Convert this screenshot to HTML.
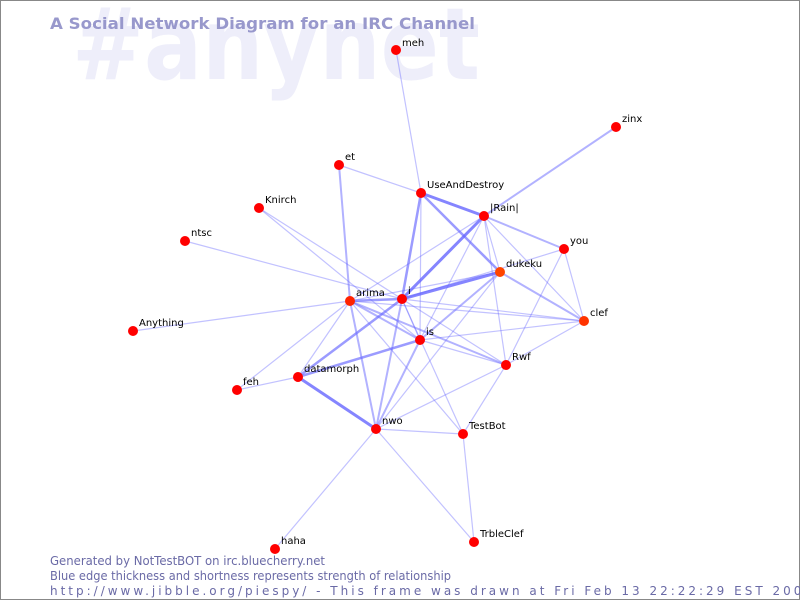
<!DOCTYPE html>
<html><head><meta charset="utf-8"><style>
html,body{margin:0;padding:0;background:#fff}
svg{display:block}
</style></head><body>
<svg width="800" height="600" viewBox="0 0 800 600" xmlns="http://www.w3.org/2000/svg">
<rect x="0.5" y="0.5" width="799" height="599" fill="#fff" stroke="#888" stroke-width="1"/>
<text x="72" y="79" font-family="DejaVu Sans, sans-serif" font-weight="bold" font-size="100" fill="#eeeefa" textLength="408" lengthAdjust="spacingAndGlyphs">#anynet</text>
<text x="50" y="29" font-family="DejaVu Sans, sans-serif" font-weight="bold" font-size="16" fill="#9898cc" textLength="425" lengthAdjust="spacingAndGlyphs">A Social Network Diagram for an IRC Channel</text>
<g stroke="#6666ff" stroke-linecap="round" fill="none">
<g stroke-opacity="0.4" stroke-width="1.2">
<line x1="396" y1="50" x2="421" y2="193"/>
<line x1="339" y1="165" x2="421" y2="193"/>
<line x1="421" y1="193" x2="420" y2="340"/>
<line x1="484" y1="216" x2="350" y2="301"/>
<line x1="484" y1="216" x2="500" y2="272"/>
<line x1="484" y1="216" x2="584" y2="321"/>
<line x1="484" y1="216" x2="420" y2="340"/>
<line x1="484" y1="216" x2="506" y2="365"/>
<line x1="564" y1="249" x2="584" y2="321"/>
<line x1="564" y1="249" x2="506" y2="365"/>
<line x1="564" y1="249" x2="402" y2="299"/>
<line x1="500" y1="272" x2="350" y2="301"/>
<line x1="500" y1="272" x2="376" y2="429"/>
<line x1="350" y1="301" x2="584" y2="321"/>
<line x1="350" y1="301" x2="298" y2="377"/>
<line x1="350" y1="301" x2="237" y2="390"/>
<line x1="350" y1="301" x2="133" y2="331"/>
<line x1="350" y1="301" x2="463" y2="434"/>
<line x1="259" y1="208" x2="420" y2="340"/>
<line x1="259" y1="208" x2="402" y2="299"/>
<line x1="185" y1="241" x2="402" y2="299"/>
<line x1="402" y1="299" x2="420" y2="340"/>
<line x1="402" y1="299" x2="506" y2="365"/>
<line x1="402" y1="299" x2="463" y2="434"/>
<line x1="402" y1="299" x2="584" y2="321"/>
<line x1="420" y1="340" x2="584" y2="321"/>
<line x1="420" y1="340" x2="506" y2="365"/>
<line x1="298" y1="377" x2="237" y2="390"/>
<line x1="376" y1="429" x2="463" y2="434"/>
<line x1="376" y1="429" x2="506" y2="365"/>
<line x1="376" y1="429" x2="275" y2="549"/>
<line x1="376" y1="429" x2="474" y2="542"/>
<line x1="463" y1="434" x2="506" y2="365"/>
<line x1="463" y1="434" x2="474" y2="542"/>
<line x1="584" y1="321" x2="506" y2="365"/>
</g>
<g stroke-opacity="0.5" stroke-width="2">
<line x1="616" y1="127" x2="484" y2="216"/>
<line x1="339" y1="165" x2="350" y2="301"/>
<line x1="500" y1="272" x2="584" y2="321"/>
<line x1="500" y1="272" x2="420" y2="340"/>
<line x1="350" y1="301" x2="420" y2="340"/>
<line x1="350" y1="301" x2="506" y2="365"/>
<line x1="350" y1="301" x2="376" y2="429"/>
<line x1="402" y1="299" x2="376" y2="429"/>
<line x1="420" y1="340" x2="376" y2="429"/>
<line x1="484" y1="216" x2="564" y2="249"/>
</g>
<g stroke-opacity="0.65" stroke-width="2.5">
<line x1="402" y1="299" x2="298" y2="377"/>
<line x1="420" y1="340" x2="298" y2="377"/>
<line x1="421" y1="193" x2="500" y2="272"/>
<line x1="421" y1="193" x2="402" y2="299"/>
<line x1="350" y1="301" x2="402" y2="299"/>
</g>
<g stroke-opacity="0.8" stroke-width="3">
<line x1="421" y1="193" x2="484" y2="216"/>
<line x1="484" y1="216" x2="402" y2="299"/>
<line x1="500" y1="272" x2="402" y2="299"/>
<line x1="298" y1="377" x2="376" y2="429"/>
</g>
</g>
<g fill="#ff0000">
<circle cx="396" cy="50" r="5"/><circle cx="616" cy="127" r="5"/><circle cx="339" cy="165" r="5"/>
<circle cx="421" cy="193" r="5"/><circle cx="259" cy="208" r="5"/><circle cx="484" cy="216" r="5"/>
<circle cx="185" cy="241" r="5"/><circle cx="564" cy="249" r="5"/><circle cx="500" cy="272" r="5" fill="#ff4400"/>
<circle cx="350" cy="301" r="5" fill="#ff2200"/><circle cx="402" cy="299" r="5"/><circle cx="133" cy="331" r="5"/>
<circle cx="584" cy="321" r="5" fill="#ff3300"/><circle cx="420" cy="340" r="5"/><circle cx="298" cy="377" r="5"/>
<circle cx="506" cy="365" r="5"/><circle cx="237" cy="390" r="5"/><circle cx="376" cy="429" r="5"/>
<circle cx="463" cy="434" r="5"/><circle cx="474" cy="542" r="5"/><circle cx="275" cy="549" r="5"/>
</g>
<g font-family="DejaVu Sans, sans-serif" font-size="10" fill="#000">
<text x="402" y="46">meh</text><text x="622" y="122">zinx</text><text x="345" y="160">et</text>
<text x="427" y="188">UseAndDestroy</text><text x="265" y="203">Knirch</text><text x="490" y="211">|Rain|</text>
<text x="191" y="236">ntsc</text><text x="570" y="244">you</text><text x="506" y="267">dukeku</text>
<text x="356" y="296">arima</text><text x="408" y="294">i</text><text x="139" y="326">Anything</text>
<text x="590" y="316">clef</text><text x="426" y="335">is</text><text x="304" y="372">datamorph</text>
<text x="512" y="360">Rwf</text><text x="243" y="385">feh</text><text x="382" y="424">nwo</text>
<text x="469" y="429">TestBot</text><text x="480" y="537">TrbleClef</text><text x="281" y="544">haha</text>
</g>
<g font-family="DejaVu Sans, sans-serif" font-size="12" fill="#6a6aa6">
<text x="50" y="565" textLength="275" lengthAdjust="spacingAndGlyphs">Generated by NotTestBOT on irc.bluecherry.net</text>
<text x="50" y="580" textLength="401" lengthAdjust="spacingAndGlyphs">Blue edge thickness and shortness represents strength of relationship</text>
<text x="50" y="595" textLength="762" lengthAdjust="spacing">http://www.jibble.org/piespy/ - This frame was drawn at Fri Feb 13 22:22:29 EST 2004</text>
</g>
</svg>
</body></html>
